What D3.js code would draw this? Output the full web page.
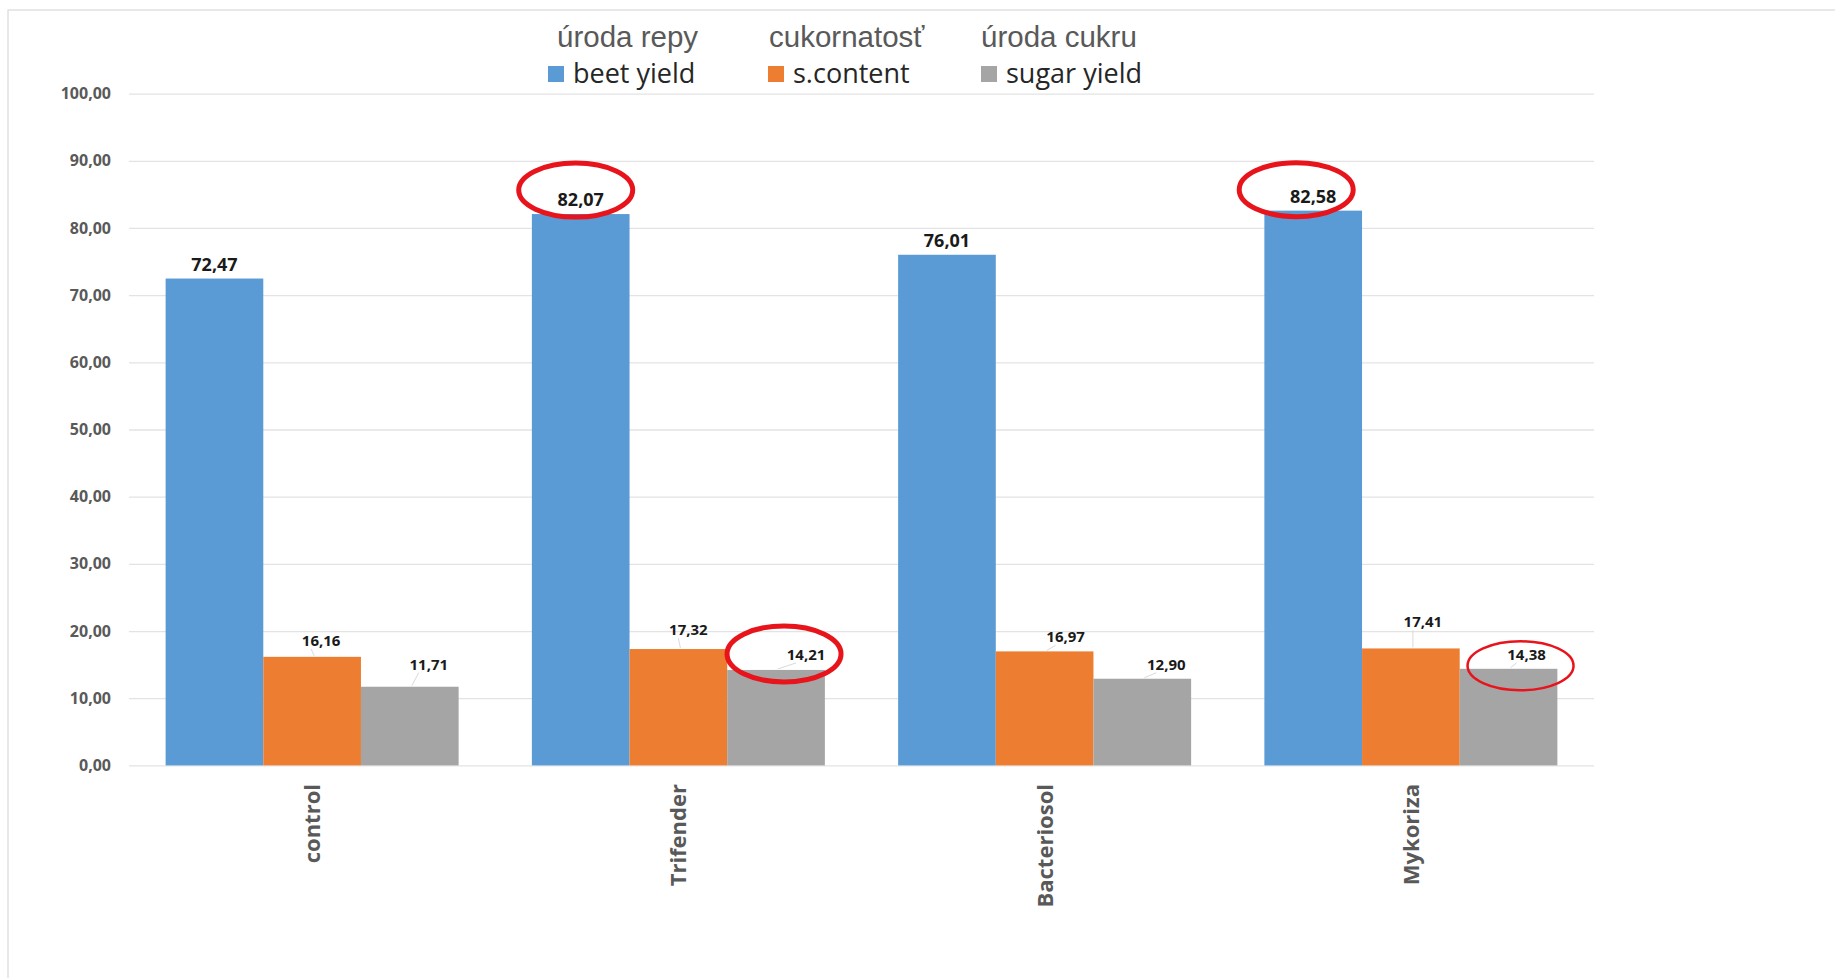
<!DOCTYPE html>
<html>
<head>
<meta charset="utf-8">
<script src="https://cdn.jsdelivr.net/npm/d3@7/dist/d3.min.js"></script>
<style>
  html, body { margin: 0; padding: 0; background: #ffffff; }
  svg { display: block; }
</style>
</head>
<body>
<svg id="chart" width="1835" height="978"></svg>
<script>
// ---- data ----
const categories = ["control", "Trifender", "Bacteriosol", "Mykoriza"];
const seriesNames = ["beet yield", "s.content", "sugar yield"];
const seriesTitles = ["úroda repy", "cukornatosť", "úroda cukru"];
const beetYield = [72.47, 82.07, 76.01, 82.58];
const sugarContent = [16.16, 17.32, 16.97, 17.41];
const sugarYield = [11.71, 14.21, 12.90, 14.38];
const yTicks = [0, 10, 20, 30, 40, 50, 60, 70, 80, 90, 100];
// circled labels: [seriesIndex, categoryIndex]
const highlighted = [[0, 1], [0, 3], [2, 1], [2, 3]];

// ---- styling / layout ----
const colors = ["#5B9BD5", "#ED7D31", "#A5A5A5"];
const labelNudge = [
  [[0, -8], [0, -8], [0, -8], [0, -8]],
  [[9, -11], [10, -14], [21, -9], [12, -21]],
  [[19, -17], [30, -10], [24, -9], [18, -9]]
];
const ellipseNudge = [[-5, -16, 57, 27, 5], [-17, -13, 57, 27, 5], [-22, -6, 57, 28, 5], [-6, 6, 53, 24.5, 2.5]];

const seriesValues = [beetYield, sugarContent, sugarYield];
const svg = d3.select("#chart");

// outer frame
svg.append("rect").attr("x", 8).attr("y", 10).attr("width", 1900).attr("height", 1000)
  .attr("fill", "#fff").attr("stroke", "#d9d9d9").attr("stroke-width", 1.2);

const plot = { left: 129, right: 1594, top: 93.6, bottom: 765.4 };

const x0 = d3.scaleBand().domain(categories).range([plot.left, plot.right])
  .paddingInner(0.2).paddingOuter(0.1);
const x1 = d3.scaleBand().domain(seriesNames).range([0, x0.bandwidth()]).padding(0);
const y = d3.scaleLinear().domain([0, 100]).range([plot.bottom, plot.top]);

// gridlines
const yAxis = d3.axisLeft(y).tickValues(yTicks)
  .tickSize(-(plot.right - plot.left))
  .tickFormat(d => d3.format(".2f")(d).replace(".", ","))
  .tickPadding(18);
const gy = svg.append("g").attr("transform", `translate(${plot.left},0)`).call(yAxis);
gy.select(".domain").remove();
gy.selectAll(".tick line").attr("stroke", "#e3e3e3").attr("stroke-width", 1.3);
gy.selectAll(".tick text")
  .attr("fill", "#595959")
  .style("font-family", "'Open Sans', sans-serif")
  .style("font-weight", "bold")
  .style("font-size", "16px");

// bars
const rows = [];
seriesValues.forEach((vals, s) => vals.forEach((v, c) => rows.push({ s, c, v })));

svg.append("g").selectAll("rect").data(rows).join("rect")
  .attr("x", d => x0(categories[d.c]) + x1(seriesNames[d.s]))
  .attr("y", d => y(d.v))
  .attr("width", x1.bandwidth())
  .attr("height", d => y(0) - y(d.v))
  .attr("fill", d => colors[d.s]);

// leader lines for small labels
const lx = d => x0(categories[d.c]) + x1(seriesNames[d.s]) + x1.bandwidth() / 2;
svg.append("g").selectAll("line").data(rows.filter(d => d.s > 0)).join("line")
  .attr("x1", d => lx(d) + 2)
  .attr("y1", d => y(d.v) - 1)
  .attr("x2", d => lx(d) + labelNudge[d.s][d.c][0] - 10)
  .attr("y2", d => y(d.v) + labelNudge[d.s][d.c][1] + 3)
  .attr("stroke", "#dadada").attr("stroke-width", 1);

// value labels
svg.append("g").selectAll("text").data(rows).join("text")
  .attr("x", d => lx(d) + labelNudge[d.s][d.c][0])
  .attr("y", d => y(d.v) + labelNudge[d.s][d.c][1])
  .attr("text-anchor", "middle")
  .attr("fill", "#1a1a1a")
  .style("font-family", "'Open Sans', sans-serif")
  .style("font-weight", "bold")
  .style("font-size", d => d.s === 0 ? "18px" : "15px")
  .text(d => d3.format(".2f")(d.v).replace(".", ","));

// highlight ellipses
svg.append("g").selectAll("ellipse").data(highlighted).join("ellipse")
  .attr("cx", (h, i) => lx({ s: h[0], c: h[1] }) + labelNudge[h[0]][h[1]][0] + ellipseNudge[i][0])
  .attr("cy", (h, i) => y(seriesValues[h[0]][h[1]]) + labelNudge[h[0]][h[1]][1] + ellipseNudge[i][1])
  .attr("rx", (h, i) => ellipseNudge[i][2])
  .attr("ry", (h, i) => ellipseNudge[i][3])
  .attr("fill", "none")
  .attr("stroke", "#E8141B")
  .attr("stroke-width", (h, i) => ellipseNudge[i][4]);

// category labels (rotated)
svg.append("g").selectAll("text").data(categories).join("text")
  .attr("transform", d => `translate(${x0(d) + x0.bandwidth() / 2 + 8},784) rotate(-90)`)
  .attr("text-anchor", "end")
  .attr("fill", "#595959")
  .style("font-family", "'Open Sans', sans-serif")
  .style("font-weight", "bold")
  .style("font-size", "22px")
  .text(d => d);

// legend
const legendX = [548, 768, 981];
const titleX = [557, 769, 981];
const lg = svg.append("g");
seriesNames.forEach((name, i) => {
  lg.append("text").attr("x", titleX[i]).attr("y", 47)
    .attr("fill", "#595959")
    .style("font-family", "'Liberation Sans', Arial, sans-serif")
    .style("font-size", "29.5px")
    .text(seriesTitles[i]);
  lg.append("rect").attr("x", legendX[i]).attr("y", 66).attr("width", 16).attr("height", 16)
    .attr("fill", colors[i]);
  lg.append("text").attr("x", legendX[i] + 25).attr("y", 83)
    .attr("fill", "#262626")
    .style("font-family", "'Open Sans', sans-serif")
    .style("font-size", "27px")
    .text(name);
});
</script>
</body>
</html>
